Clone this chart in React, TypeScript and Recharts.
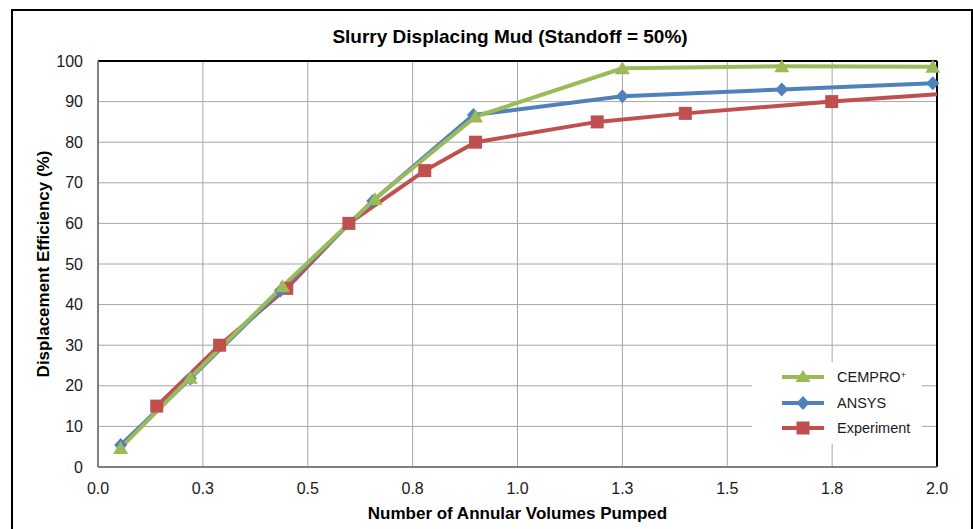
import React from 'react';
import { LineChart, Line, XAxis, YAxis, CartesianGrid, ReferenceLine, Legend } from 'recharts';

const TITLE = 'Slurry Displacing Mud (Standoff = 50%)';
const X_LABEL = 'Number of Annular Volumes Pumped';
const Y_LABEL = 'Displacement Efficiency (%)';

const xTicks = [0, 0.25, 0.5, 0.75, 1, 1.25, 1.5, 1.75, 2];
const xTickLabels = ['0.0', '0.3', '0.5', '0.8', '1.0', '1.3', '1.5', '1.8', '2.0'];
const yTicks = [0, 10, 20, 30, 40, 50, 60, 70, 80, 90, 100];

const cemproX = [0.054, 0.22, 0.44, 0.66, 0.9, 1.25, 1.63, 1.99];
const cemproY = [4.7, 22, 44.5, 66, 86.3, 98.2, 98.7, 98.6];

const ansysX = [0.054, 0.22, 0.435, 0.655, 0.895, 1.25, 1.63, 1.99];
const ansysY = [5.4, 21.8, 43.5, 65.5, 86.7, 91.3, 93.0, 94.5];

const expX = [0.14, 0.29, 0.45, 0.598, 0.779, 0.9, 1.19, 1.4, 1.749, 2.0];
const expY = [15, 30, 44, 60, 73, 80, 85, 87.1, 90, 91.8];

const GREEN = '#9BBB59';
const BLUE = '#4F81BD';
const RED = '#C0504D';
const FONT = '"Liberation Sans", Arial, sans-serif';

const toData = (xs: number[], ys: number[]) => xs.map((x, i) => ({ x, y: ys[i] }));
const cemproData = toData(cemproX, cemproY);
const ansysData = toData(ansysX, ansysY);
const expData = toData(expX, expY);

const TriangleDot = (props: any) => {
  const { cx, cy, index } = props;
  if (cx == null || cy == null) return <g key={`t${index}`} />;
  return (
    <polygon
      key={`t${index}`}
      points={`${cx},${cy - 7} ${cx + 7.5},${cy + 6} ${cx - 7.5},${cy + 6}`}
      fill={GREEN}
    />
  );
};

const DiamondDot = (props: any) => {
  const { cx, cy, index } = props;
  if (cx == null || cy == null) return <g key={`d${index}`} />;
  return (
    <polygon
      key={`d${index}`}
      points={`${cx},${cy - 7} ${cx + 6.5},${cy} ${cx},${cy + 7} ${cx - 6.5},${cy}`}
      fill={BLUE}
    />
  );
};

const SquareDot = (props: any) => {
  const { cx, cy, index, payload } = props;
  if (cx == null || cy == null || (payload && payload.x >= 2)) return <g key={`s${index}`} />;
  return <rect key={`s${index}`} x={cx - 6.5} y={cy - 6.5} width={13} height={13} fill={RED} />;
};

const legendItems = [
  { name: 'CEMPRO', sup: '+', color: GREEN, shape: 'triangle' },
  { name: 'ANSYS', sup: '', color: BLUE, shape: 'diamond' },
  { name: 'Experiment', sup: '', color: RED, shape: 'square' },
];

const LegendIcon = ({ color, shape }: { color: string; shape: string }) => (
  <svg width={44} height={16} style={{ display: 'block' }}>
    <line x1={1} y1={8} x2={43} y2={8} stroke={color} strokeWidth={4} />
    {shape === 'triangle' && <polygon points="22,1 29.5,13 14.5,13" fill={color} />}
    {shape === 'diamond' && <polygon points="22,1 28.5,8 22,15 15.5,8" fill={color} />}
    {shape === 'square' && <rect x={15.5} y={1.5} width={13} height={13} fill={color} />}
  </svg>
);

const LegendBox = () => (
  <div
    style={{
      background: '#fff',
      width: 170,
      height: 82,
      boxSizing: 'border-box',
      paddingLeft: 29,
      paddingTop: 2,
      fontFamily: FONT,
      fontSize: 14.5,
      color: '#1a1a1a',
    }}
  >
    {legendItems.map((it) => (
      <div key={it.name} style={{ display: 'flex', alignItems: 'center', height: 25.7 }}>
        <LegendIcon color={it.color} shape={it.shape} />
        <span style={{ marginLeft: 12 }}>
          {it.name}
          {it.sup && <sup style={{ fontSize: 9, verticalAlign: 'top', lineHeight: '12px' }}>{it.sup}</sup>}
        </span>
      </div>
    ))}
  </div>
);

const YLabel = (props: any) => {
  const vb = props.viewBox || { x: 0, y: 0, width: 0, height: 0 };
  const cx = vb.x + 43;
  const cy = vb.y + vb.height / 2;
  return (
    <text
      x={cx}
      y={cy}
      transform={`rotate(-90 ${cx} ${cy})`}
      textAnchor="middle"
      dominantBaseline="central"
      fontFamily={FONT}
      fontWeight="bold"
      fontSize={17}
      fill="#000"
    >
      {Y_LABEL}
    </text>
  );
};

export default function App() {
  return (
    <div style={{ position: 'absolute', left: 0, top: 0, width: 973, height: 529, overflow: 'hidden', background: '#fff' }}>
      <div
        style={{
          position: 'absolute',
          left: 11,
          top: 9,
          width: 958,
          height: 560,
          border: '2px solid #000',
        }}
      />
      <div
        style={{
          position: 'absolute',
          left: 260,
          top: 26,
          width: 500,
          textAlign: 'center',
          fontFamily: FONT,
          fontWeight: 'bold',
          fontSize: 19,
          lineHeight: '22px',
          color: '#000',
        }}
      >
        {TITLE}
      </div>
      <div style={{ position: 'absolute', left: 0, top: 0 }}>
        <LineChart width={973} height={529} margin={{ top: 61, right: 36, bottom: 0, left: 0 }}>
          <CartesianGrid stroke="#a6a6a6" strokeWidth={1} horizontal vertical />
          <XAxis
            type="number"
            dataKey="x"
            domain={[0, 2]}
            ticks={xTicks}
            tickFormatter={(v: number) => xTickLabels[xTicks.indexOf(v)] ?? String(v)}
            tickSize={0}
            tickMargin={16}
            height={62}
            stroke="#7f7f7f"
            strokeWidth={2}
            tick={{ fontFamily: FONT, fontSize: 16, fill: '#1a1a1a' }}
            label={{
              value: X_LABEL,
              position: 'insideBottom',
              offset: 10,
              style: { fontFamily: FONT, fontWeight: 'bold', fontSize: 17, fill: '#000' },
            }}
            allowDuplicatedCategory={false}
          />
          <YAxis
            type="number"
            dataKey="y"
            domain={[0, 100]}
            ticks={yTicks}
            tickSize={0}
            tickMargin={15}
            width={98}
            stroke="#7f7f7f"
            strokeWidth={2}
            tick={{ fontFamily: FONT, fontSize: 16, fill: '#1a1a1a' }}
            label={{ content: YLabel }}
          />
          <ReferenceLine y={100} stroke="#000" strokeWidth={2} />
          <ReferenceLine x={2} stroke="#000" strokeWidth={2} />
          <Legend
            layout="horizontal"
            verticalAlign="middle"
            align="center"
            content={() => <LegendBox />}
            wrapperStyle={{ position: 'absolute', left: 752, top: 362, width: 170, height: 82 }}
          />
          <Line
            data={expData}
            dataKey="y"
            name="Experiment"
            stroke={RED}
            strokeWidth={4}
            dot={SquareDot}
            activeDot={false}
            isAnimationActive={false}
          />
          <Line
            data={ansysData}
            dataKey="y"
            name="ANSYS"
            stroke={BLUE}
            strokeWidth={4}
            dot={DiamondDot}
            activeDot={false}
            isAnimationActive={false}
          />
          <Line
            data={cemproData}
            dataKey="y"
            name="CEMPRO+"
            stroke={GREEN}
            strokeWidth={4}
            dot={TriangleDot}
            activeDot={false}
            isAnimationActive={false}
          />
        </LineChart>
      </div>
    </div>
  );
}
